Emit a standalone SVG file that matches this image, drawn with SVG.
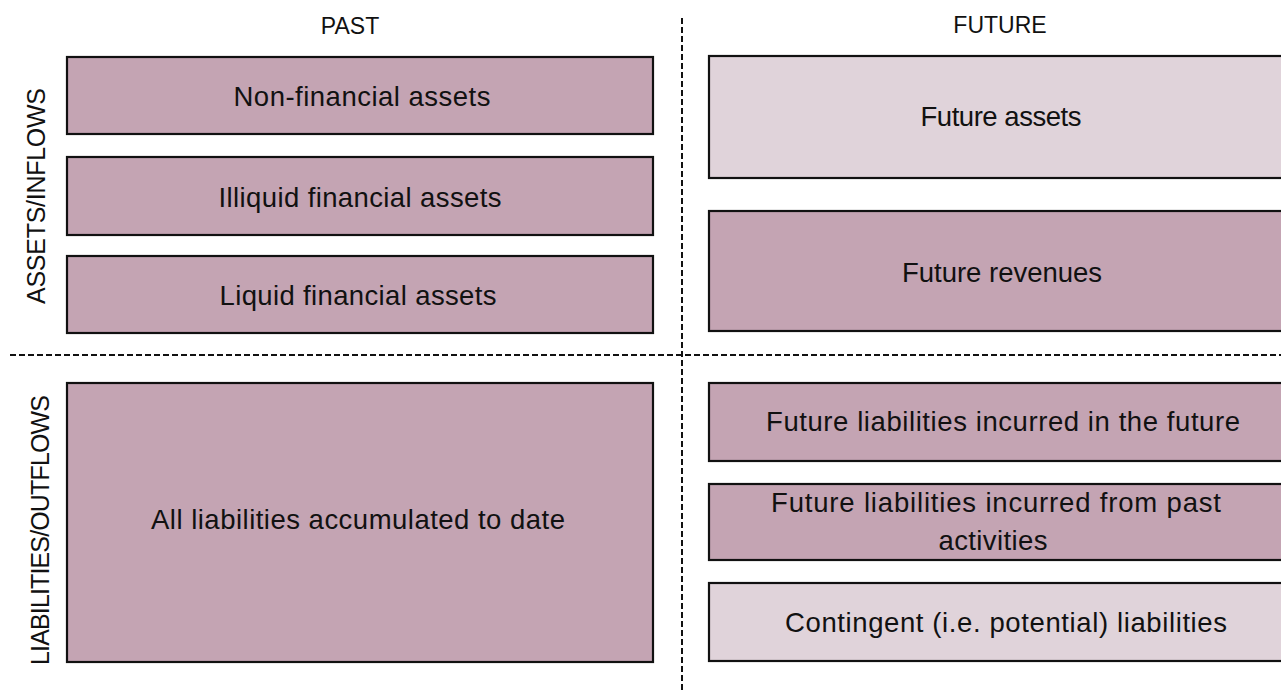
<svg xmlns="http://www.w3.org/2000/svg" width="1281" height="691" viewBox="0 0 1281 691">
<style>
.dark{fill:#C4A4B3;stroke:#111;stroke-width:2.2}
.light{fill:#E0D3DA;stroke:#111;stroke-width:2.2}
.t{font-family:"Liberation Sans",Arial,sans-serif;font-size:27.5px;fill:#111;text-anchor:middle}
.h{font-family:"Liberation Sans",Arial,sans-serif;font-size:23px;fill:#111;text-anchor:middle}
.side{font-family:"Liberation Sans",Arial,sans-serif;font-size:25px;fill:#111;text-anchor:middle}
.div{stroke:#111;stroke-width:2;stroke-dasharray:6 3;fill:none}
</style>
<rect width="1281" height="691" fill="#fff"/>
<g id="dividers">
<line class="div" x1="682" y1="18" x2="682" y2="691"/>
<line class="div" x1="10" y1="355" x2="1281" y2="355"/>
</g>
<g id="header-past"><text class="h" x="350" y="34">PAST</text></g>
<g id="header-future"><text class="h" x="1000" y="33">FUTURE</text></g>
<g id="label-assets"><text class="side" transform="translate(45,196) rotate(-90)" textLength="216">ASSETS/INFLOWS</text></g>
<g id="label-liabilities"><text class="side" transform="translate(49,530) rotate(-90)" textLength="270">LIABILITIES/OUTFLOWS</text></g>
<g id="non-financial-assets">
<rect class="dark" x="67" y="57" width="586" height="77"/>
<text class="t" x="362" y="106" textLength="257">Non-financial assets</text>
</g>
<g id="illiquid-financial-assets">
<rect class="dark" x="67" y="157" width="586" height="78"/>
<text class="t" x="360" y="207" textLength="283">Illiquid financial assets</text>
</g>
<g id="liquid-financial-assets">
<rect class="dark" x="67" y="256" width="586" height="77"/>
<text class="t" x="358" y="305" textLength="277">Liquid financial assets</text>
</g>
<g id="all-liabilities">
<rect class="dark" x="67" y="383" width="586" height="279"/>
<text class="t" x="358" y="529" textLength="414">All liabilities accumulated to date</text>
</g>
<g id="future-assets">
<rect class="light" x="709" y="56" width="590" height="122"/>
<text class="t" x="1001" y="126" textLength="161">Future assets</text>
</g>
<g id="future-revenues">
<rect class="dark" x="709" y="211" width="590" height="120"/>
<text class="t" x="1002" y="282" textLength="200">Future revenues</text>
</g>
<g id="future-liabilities-future">
<rect class="dark" x="709" y="383" width="590" height="78"/>
<text class="t" x="1003" y="431" textLength="474">Future liabilities incurred in the future</text>
</g>
<g id="future-liabilities-past">
<rect class="dark" x="709" y="484" width="590" height="76"/>
<text class="t" x="996" y="512" textLength="450">Future liabilities incurred from past</text>
<text class="t" x="993" y="550" textLength="109">activities</text>
</g>
<g id="contingent-liabilities">
<rect class="light" x="709" y="583" width="590" height="78"/>
<text class="t" x="1006" y="632" textLength="442">Contingent (i.e. potential) liabilities</text>
</g>
</svg>
